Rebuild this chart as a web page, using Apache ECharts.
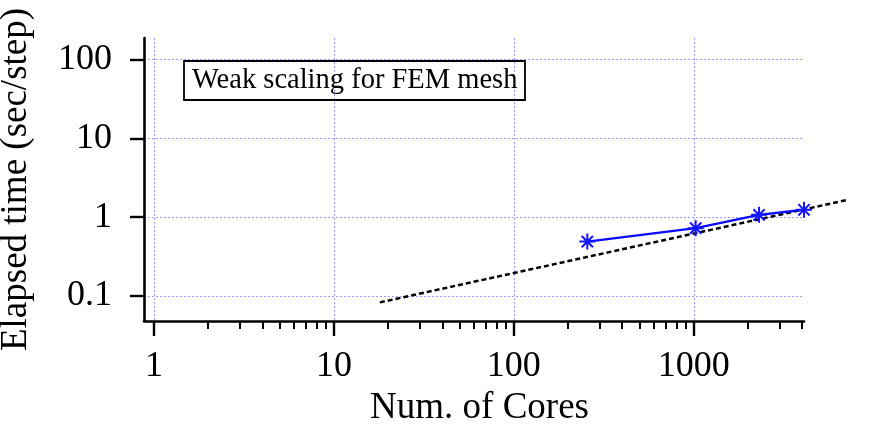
<!DOCTYPE html>
<html>
<head>
<meta charset="utf-8">
<script src="https://cdn.jsdelivr.net/npm/echarts@6/dist/echarts.min.js"></script>
<style>html,body{margin:0;padding:0;background:#fff}#c{width:887px;height:425px}</style>
</head>
<body>
<div id="c"></div>
<script>
// ---- data ----
const cores = [256, 1024, 2304, 4096];
const elapsed = [0.49, 0.725, 1.07, 1.24];
const idealX = [18, 7100];
const idealY = [0.083, 1.65];
const xMajorTicks = [1, 10, 100, 1000];
const xMinorTicks = [2,3,4,5,6,7,8,9,20,30,40,50,60,70,80,90,200,300,400,500,600,700,800,900,2000,3000,4000];
const yMajorTicks = [0.1, 1, 10, 100];
const legendText = 'Weak scaling for FEM mesh';
const xTitle = 'Num. of Cores';
const yTitle = 'Elapsed time (sec/step)';

const FONT = 'Liberation Serif';
const gridColor = '#9c9cff';
const fmt = v => String(+(+v).toPrecision(6));

// axis ranges
const xMin = 0.88, xMax = 4096, yMin = 0.0482, yMax = 187;
const gLeft = 144, gRight = 83, gTop = 38, gBottom = 104;
// second grid sharing the same pixel-per-decade so the ideal line can run past the axis end
const W = 887;
const pxPerDecade = (W - gLeft - gRight) / Math.log10(xMax / xMin);
const x2Max = idealX[idealX.length - 1];
const g2Right = W - (gLeft + pxPerDecade * Math.log10(x2Max / xMin));

const chart = echarts.init(document.getElementById('c'), null, {renderer: 'canvas'});
chart.setOption({
  animation: false,
  backgroundColor: '#fff',
  title: {
    text: legendText,
    left: 184, top: 61,
    padding: [4, 8, 4, 8],
    borderColor: '#000', borderWidth: 1.8,
    textStyle: {fontFamily: FONT, fontSize: 28.5, fontWeight: 'normal', color: '#000', lineHeight: 31}
  },
  grid: [
    {left: gLeft, right: gRight, top: gTop, bottom: gBottom, containLabel: false, outerBoundsMode: 'none'},
    {left: gLeft, right: g2Right, top: gTop, bottom: gBottom, containLabel: false, outerBoundsMode: 'none'}
  ],
  xAxis: [{
    gridIndex: 0,
    type: 'log', logBase: 10, min: xMin, max: xMax,
    position: 'bottom',
    name: xTitle, nameLocation: 'middle', nameGap: 65,
    nameTextStyle: {fontFamily: FONT, fontSize: 37, color: '#000', padding: [0, 0, 0, 11]},
    axisLine: {show: true, lineStyle: {color: '#000', width: 2.6}},
    axisTick: {show: true, inside: false, length: 15, customValues: xMajorTicks, lineStyle: {color: '#000', width: 2.4}},
    axisLabel: {customValues: xMajorTicks, margin: 28, formatter: fmt, fontFamily: FONT, fontSize: 36, color: '#000'},
    splitLine: {show: true, lineStyle: {color: gridColor, type: [2, 2], width: 1}},
    minorTick: {show: false}
  }, {
    gridIndex: 0,
    type: 'log', logBase: 10, min: xMin, max: xMax,
    position: 'bottom',
    axisLine: {show: false},
    axisTick: {show: true, inside: false, length: 8, customValues: xMinorTicks, lineStyle: {color: '#000', width: 2}},
    axisLabel: {show: false},
    splitLine: {show: false}
  }, {
    gridIndex: 1,
    type: 'log', logBase: 10, min: xMin, max: x2Max,
    show: false
  }],
  yAxis: [{
    gridIndex: 0,
    type: 'log', logBase: 10, min: yMin, max: yMax,
    position: 'left',
    name: yTitle, nameLocation: 'middle', nameGap: 109,
    nameTextStyle: {fontFamily: FONT, fontSize: 37, color: '#000'},
    axisLine: {show: true, lineStyle: {color: '#000', width: 2.6}},
    axisTick: {show: true, inside: false, length: 14, customValues: yMajorTicks, lineStyle: {color: '#000', width: 2.4}},
    axisLabel: {customValues: yMajorTicks, margin: 32, formatter: fmt, fontFamily: FONT, fontSize: 36, color: '#000'},
    splitLine: {show: true, lineStyle: {color: gridColor, type: [2, 2], width: 1}}
  }, {
    gridIndex: 1,
    type: 'log', logBase: 10, min: yMin, max: yMax,
    show: false
  }],
  series: [{
    type: 'line',
    xAxisIndex: 2, yAxisIndex: 1,
    data: idealX.map((x, i) => [x, idealY[i]]),
    showSymbol: false, symbol: 'none',
    clip: false,
    lineStyle: {color: '#000', width: 2.5, type: [5, 3]},
    z: 3
  }, {
    type: 'line',
    xAxisIndex: 0, yAxisIndex: 0,
    data: cores.map((x, i) => [x, elapsed[i]]),
    clip: false,
    symbol: 'path://M0,-10L0,10M-10,0L10,0M-7.07,-7.07L7.07,7.07M-7.07,7.07L7.07,-7.07',
    symbolSize: 16,
    showSymbol: true,
    itemStyle: {color: '#1515ff', borderColor: '#1515ff', borderWidth: 2},
    lineStyle: {color: '#0a0aff', width: 2.4},
    z: 4
  }]
});
</script>
</body>
</html>
